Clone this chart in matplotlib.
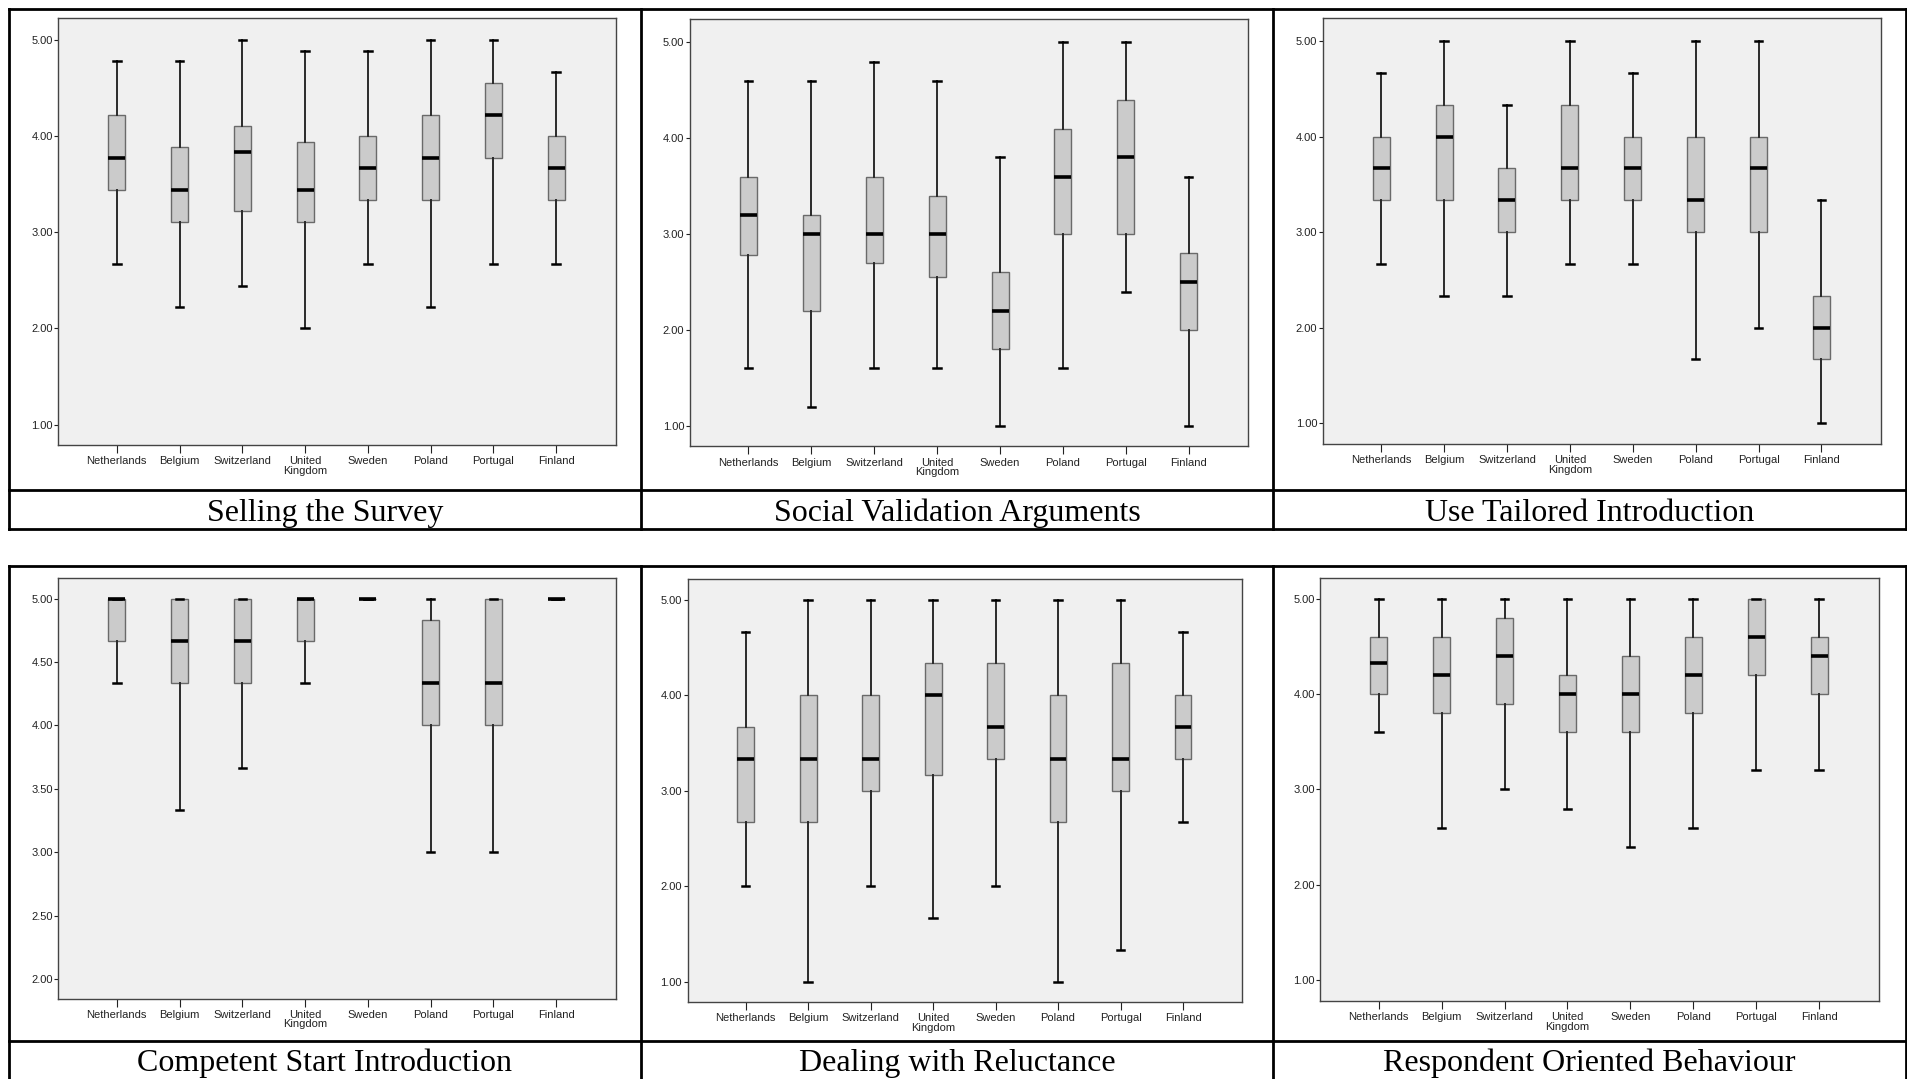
import matplotlib
matplotlib.use("Agg")
import matplotlib.pyplot as plt
from matplotlib.lines import Line2D

# ---- data (box statistics) ----
countries = ["Netherlands", "Belgium", "Switzerland", "United\nKingdom",
             "Sweden", "Poland", "Portugal", "Finland"]

titles = ["Selling the Survey", "Social Validation Arguments", "Use Tailored Introduction",
          "Competent Start Introduction", "Dealing with Reluctance", "Respondent Oriented Behaviour"]

# Selling the Survey
sell_lo = [2.667, 2.222, 2.444, 2.000, 2.667, 2.222, 2.667, 2.667]
sell_q1 = [3.444, 3.111, 3.222, 3.111, 3.333, 3.333, 3.778, 3.333]
sell_med = [3.778, 3.444, 3.833, 3.444, 3.667, 3.778, 4.222, 3.667]
sell_q3 = [4.222, 3.889, 4.111, 3.944, 4.000, 4.222, 4.556, 4.000]
sell_hi = [4.778, 4.778, 5.000, 4.889, 4.889, 5.000, 5.000, 4.667]

# Social Validation Arguments
soc_lo = [1.6, 1.2, 1.6, 1.6, 1.0, 1.6, 2.4, 1.0]
soc_q1 = [2.78, 2.2, 2.7, 2.55, 1.8, 3.0, 3.0, 2.0]
soc_med = [3.2, 3.0, 3.0, 3.0, 2.2, 3.6, 3.8, 2.5]
soc_q3 = [3.6, 3.2, 3.6, 3.4, 2.6, 4.1, 4.4, 2.8]
soc_hi = [4.6, 4.6, 4.8, 4.6, 3.8, 5.0, 5.0, 3.6]

# Use Tailored Introduction
tail_lo = [2.667, 2.333, 2.333, 2.667, 2.667, 1.667, 2.000, 1.000]
tail_q1 = [3.333, 3.333, 3.000, 3.333, 3.333, 3.000, 3.000, 1.667]
tail_med = [3.667, 4.000, 3.333, 3.667, 3.667, 3.333, 3.667, 2.000]
tail_q3 = [4.000, 4.333, 3.667, 4.333, 4.000, 4.000, 4.000, 2.333]
tail_hi = [4.667, 5.000, 4.333, 5.000, 4.667, 5.000, 5.000, 3.333]

# Competent Start Introduction
comp_lo = [4.333, 3.333, 3.667, 4.333, 5.000, 3.000, 3.000, 5.000]
comp_q1 = [4.667, 4.333, 4.333, 4.667, 5.000, 4.000, 4.000, 5.000]
comp_med = [5.000, 4.667, 4.667, 5.000, 5.000, 4.333, 4.333, 5.000]
comp_q3 = [5.000, 5.000, 5.000, 5.000, 5.000, 4.833, 5.000, 5.000]
comp_hi = [5.000, 5.000, 5.000, 5.000, 5.000, 5.000, 5.000, 5.000]

# Dealing with Reluctance
rel_lo = [2.000, 1.000, 2.000, 1.667, 2.000, 1.000, 1.333, 2.667]
rel_q1 = [2.667, 2.667, 3.000, 3.167, 3.333, 2.667, 3.000, 3.333]
rel_med = [3.333, 3.333, 3.333, 4.000, 3.667, 3.333, 3.333, 3.667]
rel_q3 = [3.667, 4.000, 4.000, 4.333, 4.333, 4.000, 4.333, 4.000]
rel_hi = [4.667, 5.000, 5.000, 5.000, 5.000, 5.000, 5.000, 4.667]

# Respondent Oriented Behaviour
resp_lo = [3.6, 2.6, 3.0, 2.8, 2.4, 2.6, 3.2, 3.2]
resp_q1 = [4.0, 3.8, 3.9, 3.6, 3.6, 3.8, 4.2, 4.0]
resp_med = [4.33, 4.2, 4.4, 4.0, 4.0, 4.2, 4.6, 4.4]
resp_q3 = [4.6, 4.6, 4.8, 4.2, 4.4, 4.6, 5.0, 4.6]
resp_hi = [5.0, 5.0, 5.0, 5.0, 5.0, 5.0, 5.0, 5.0]

panels = [
    (sell_lo, sell_q1, sell_med, sell_q3, sell_hi),
    (soc_lo, soc_q1, soc_med, soc_q3, soc_hi),
    (tail_lo, tail_q1, tail_med, tail_q3, tail_hi),
    (comp_lo, comp_q1, comp_med, comp_q3, comp_hi),
    (rel_lo, rel_q1, rel_med, rel_q3, rel_hi),
    (resp_lo, resp_q1, resp_med, resp_q3, resp_hi),
]

y_ticks = [
    [1, 2, 3, 4, 5], [1, 2, 3, 4, 5], [1, 2, 3, 4, 5],
    [2.0, 2.5, 3.0, 3.5, 4.0, 4.5, 5.0], [1, 2, 3, 4, 5], [1, 2, 3, 4, 5],
]
y_lims = [(0.785, 5.228), (0.784, 5.24), (0.78, 5.24),
          (1.847, 5.163), (0.783, 5.217), (0.783, 5.217)]

# layout measured on a 1568 x 887 grid
W, H = 1568.0, 887.0
axes_px = [  # left, right, top, bottom
    (48, 506, 15, 366), (567, 1026, 16, 367), (1087, 1546, 15, 365),
    (48, 506, 475, 821), (565, 1021, 476, 824), (1085, 1544, 475, 823),
]

plt.rcParams['font.family'] = ['Liberation Sans', 'DejaVu Sans']

fig = plt.figure(figsize=(19.08, 10.79), dpi=100)
fig.patch.set_facecolor('white')

for i, (lo, q1, med, q3, hi) in enumerate(panels):
    l, r, t, b = axes_px[i]
    ax = fig.add_axes([l / W, 1 - b / H, (r - l) / W, (b - t) / H])
    ax.set_facecolor('#f0f0f0')

    stats = [dict(whislo=lo[k], q1=q1[k], med=med[k], q3=q3[k], whishi=hi[k], fliers=[])
             for k in range(len(countries))]
    ax.bxp(stats, positions=range(1, len(countries) + 1), widths=0.27, capwidths=0.12,
           patch_artist=True, showfliers=False,
           boxprops=dict(facecolor='#cbcbcb', edgecolor='#6a6a6a', linewidth=1.0),
           medianprops=dict(color='black', linewidth=2.6, solid_capstyle='butt'),
           whiskerprops=dict(color='#2a2a2a', linewidth=1.4),
           capprops=dict(color='black', linewidth=1.8))

    ax.set_xlim(0.07, 8.95)
    ax.set_ylim(*y_lims[i])
    ax.set_yticks(y_ticks[i])
    ax.set_yticklabels([f"{v:.2f}" for v in y_ticks[i]], fontsize=8)
    ax.set_xticks(range(1, len(countries) + 1))
    ax.set_xticklabels(countries, fontsize=8, linespacing=0.95)
    ax.tick_params(axis='y', length=3, width=0.8, pad=1, colors='#222222')
    ax.tick_params(axis='x', length=6, width=0.8, pad=2, colors='#222222')
    for s in ax.spines.values():
        s.set_color('#444444')
        s.set_linewidth(1.0)

# table borders around the panels
def hline(y, x0=7, x1=1566):
    fig.add_artist(Line2D([x0 / W, x1 / W], [1 - y / H, 1 - y / H], color='black', lw=2))

def vline(x, y0, y1):
    fig.add_artist(Line2D([x / W, x / W], [1 - y0 / H, 1 - y1 / H], color='black', lw=2))

for y in (7, 403, 435, 465, 856):
    hline(y)
for x in (7, 527, 1046, 1566):
    vline(x, 7, 435)
    vline(x, 465, 887)

# captions under each chart
col_centers = [267, 786.5, 1306]
row_centers = [422, 874]
for i, title in enumerate(titles):
    cx = col_centers[i % 3] / W
    cy = 1 - row_centers[i // 3] / H
    fig.text(cx, cy, title, ha='center', va='center', fontsize=23,
             family=['Liberation Serif', 'DejaVu Serif'])

fig.savefig("out.png", dpi=100)
